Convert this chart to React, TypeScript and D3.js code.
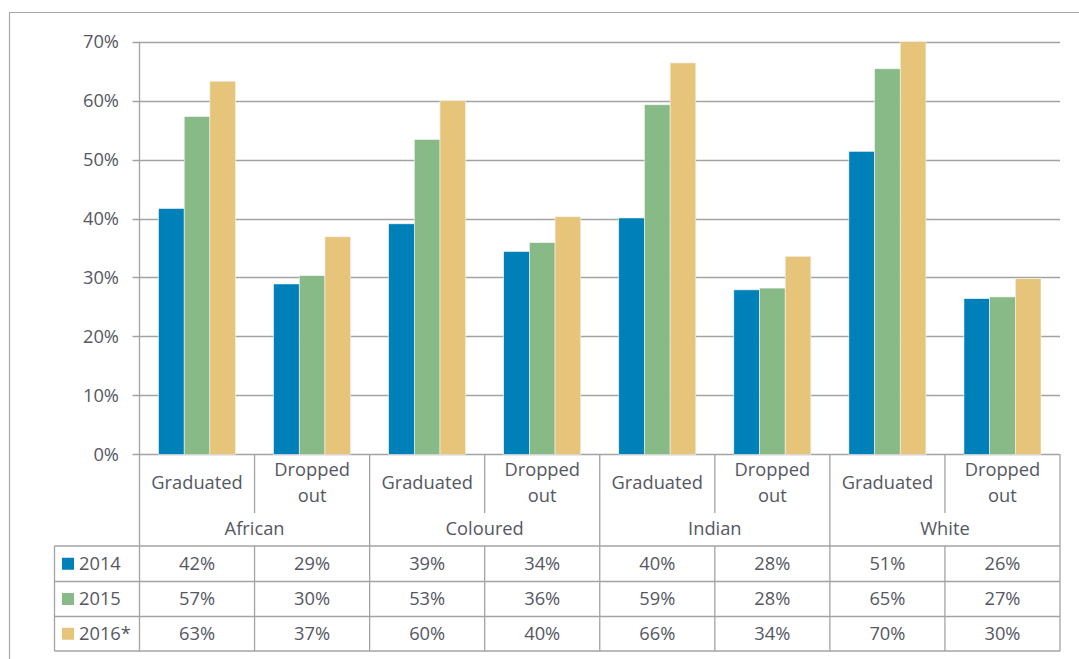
import React, { useEffect, useRef } from 'react';
import * as d3 from 'd3';

const groups = ['African', 'Coloured', 'Indian', 'White'];
const outcomes = ['Graduated', 'Dropped out'];
const years = ['2014', '2015', '2016*'];
const colors = ['#0080B9', '#88BA87', '#E6C57B'];

// values per year, ordered: African grad, African dropped, Coloured grad, ...
const values2014 = [41.7, 28.9, 39.1, 34.4, 40.1, 27.9, 51.4, 26.4];
const values2015 = [57.3, 30.3, 53.4, 35.9, 59.3, 28.2, 65.4, 26.7];
const values2016 = [63.3, 36.9, 60.0, 40.3, 66.4, 33.6, 70.0, 29.8];

const yTicks = [0, 10, 20, 30, 40, 50, 60, 70];

const App: React.FC = () => {
  const ref = useRef<SVGSVGElement>(null);

  useEffect(() => {
    const svg = d3.select(ref.current);
    svg.selectAll('*').remove();

    const W = 1079;
    const H = 659;
    const left = 139.5;
    const right = 1060;
    const top = 41.7;
    const bottom = 454.3;
    const textColor = '#555763';
    const lineColor = '#a3a3a3';
    const font = '"Open Sans", sans-serif';
    const fs = 18.3;

    const series = [values2014, values2015, values2016];
    const cats = groups.flatMap((g) => outcomes.map((o) => `${g}|${o}`));
    const data = cats.map((c, i) => ({ key: c, vals: series.map((s) => s[i]) }));

    // outer frame (cut off at right and bottom)
    svg.append('path')
      .attr('d', `M9.5,${H} V12.5 H${W}`)
      .attr('fill', 'none')
      .attr('stroke', '#a8a8a8')
      .attr('stroke-width', 1.2);

    const x = d3.scaleBand().domain(cats).range([left, right]).paddingInner(0).paddingOuter(0);
    const y = d3.scaleLinear().domain([0, 70]).range([bottom, top]);
    const xInner = d3.scaleBand()
      .domain(years)
      .range([0, x.bandwidth()])
      .paddingInner(0)
      .paddingOuter(0.74);

    // gridlines
    svg.append('g')
      .selectAll('line')
      .data(yTicks)
      .enter().append('line')
      .attr('x1', left - 7)
      .attr('x2', right)
      .attr('y1', (d) => Math.round(y(d)) + 0.5)
      .attr('y2', (d) => Math.round(y(d)) + 0.5)
      .attr('stroke', lineColor)
      .attr('stroke-width', 1.3);

    // y tick labels
    svg.append('g')
      .selectAll('text')
      .data(yTicks)
      .enter().append('text')
      .attr('x', 119)
      .attr('y', (d) => y(d))
      .attr('dy', '0.35em')
      .attr('text-anchor', 'end')
      .attr('font-family', font)
      .attr('font-size', fs)
      .attr('fill', textColor)
      .text((d) => `${d}%`);

    // bars
    const barGroups = svg.append('g')
      .selectAll('g')
      .data(data)
      .enter().append('g')
      .attr('transform', (d) => `translate(${x(d.key)},0)`);

    barGroups.selectAll('rect')
      .data((d) => d.vals.map((v, i) => ({ v, i })))
      .enter().append('rect')
      .attr('x', (d) => xInner(years[d.i]) as number)
      .attr('y', (d) => y(d.v))
      .attr('width', xInner.bandwidth())
      .attr('height', (d) => bottom - y(d.v))
      .attr('fill', (d) => colors[d.i])
      .attr('stroke', '#f4f4f4')
      .attr('stroke-width', 0.6);

    // vertical axis line
    const tb = svg.append('g').attr('stroke', lineColor).attr('stroke-width', 1.3);
    tb.append('line').attr('x1', left).attr('x2', left).attr('y1', top).attr('y2', 651);

    const headerBottom = 546;
    const rowLines = [546, 581.5, 616.5, 651];
    const tableLeft = 54.5;

    // table horizontals
    tb.selectAll('line.h')
      .data(rowLines)
      .enter().append('line')
      .attr('x1', tableLeft)
      .attr('x2', right)
      .attr('y1', (d) => d)
      .attr('y2', (d) => d);
    tb.append('line').attr('x1', tableLeft).attr('x2', tableLeft).attr('y1', headerBottom).attr('y2', 651);

    // group dividers (full height) and category dividers
    cats.forEach((c, i) => {
      const xr = (x(c) as number) + x.bandwidth();
      if (i % 2 === 1) {
        tb.append('line').attr('x1', xr).attr('x2', xr).attr('y1', bottom).attr('y2', 651);
      } else {
        tb.append('line').attr('x1', xr).attr('x2', xr).attr('y1', bottom).attr('y2', 513);
        tb.append('line').attr('x1', xr).attr('x2', xr).attr('y1', headerBottom).attr('y2', 651);
      }
    });

    const txt = svg.append('g')
      .attr('font-family', font)
      .attr('font-size', fs)
      .attr('fill', textColor)
      .attr('text-anchor', 'middle');

    // category labels
    cats.forEach((c) => {
      const cx = (x(c) as number) + x.bandwidth() / 2;
      const label = c.split('|')[1];
      if (label === 'Graduated') {
        txt.append('text').attr('x', cx).attr('y', 483).attr('dy', '0.35em').text(label);
      } else {
        const [a, b] = label.split(' ');
        txt.append('text').attr('x', cx).attr('y', 470).attr('dy', '0.35em').text(a);
        txt.append('text').attr('x', cx).attr('y', 496).attr('dy', '0.35em').text(b);
      }
    });

    // group labels
    groups.forEach((g, gi) => {
      const cx = (x(cats[gi * 2]) as number) + x.bandwidth();
      txt.append('text').attr('x', cx).attr('y', 529).attr('dy', '0.35em').text(g);
    });

    // table rows
    const fmt = d3.format('.0f');
    series.forEach((s, si) => {
      const cy = (rowLines[si] + rowLines[si + 1]) / 2;
      svg.append('rect')
        .attr('x', 62)
        .attr('y', cy - 6)
        .attr('width', 12)
        .attr('height', 12)
        .attr('fill', colors[si]);
      svg.append('text')
        .attr('x', 79)
        .attr('y', cy)
        .attr('dy', '0.35em')
        .attr('font-family', font)
        .attr('font-size', fs)
        .attr('fill', textColor)
        .text(years[si]);
      s.forEach((v, i) => {
        txt.append('text')
          .attr('x', (x(cats[i]) as number) + x.bandwidth() / 2)
          .attr('y', cy)
          .attr('dy', '0.35em')
          .text(`${fmt(v)}%`);
      });
    });
  }, []);

  return (
    <div style={{ position: 'absolute', left: 0, top: 0 }}>
      <svg ref={ref} width={1079} height={659} style={{ display: 'block', background: '#fff' }} />
    </div>
  );
};

export default App;
